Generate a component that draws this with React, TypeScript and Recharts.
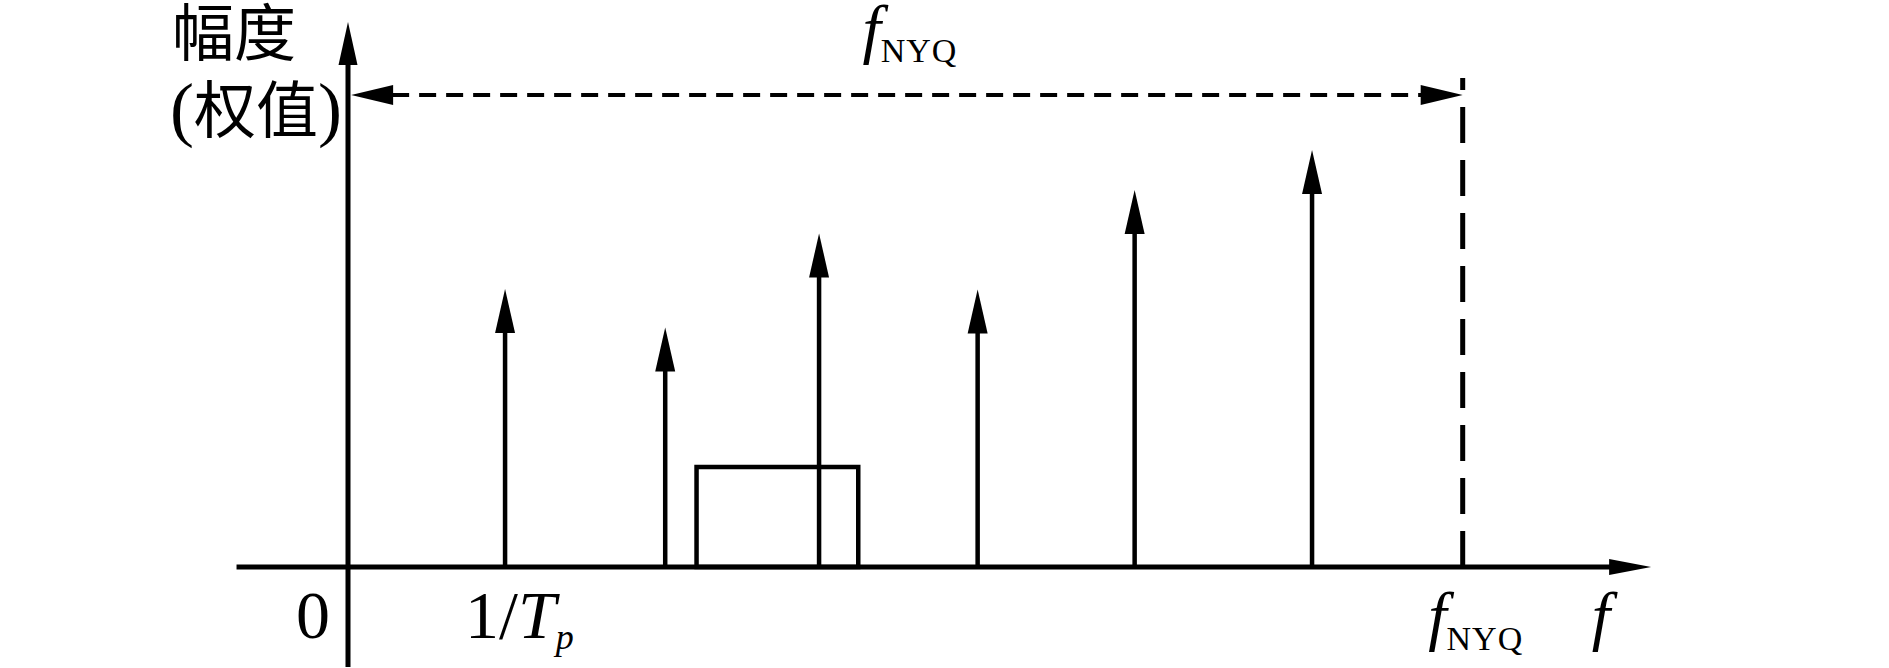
import { ComposedChart, Bar, XAxis, YAxis, ReferenceLine, ReferenceArea } from "recharts";

// spectral lines (x in units of 1/Tp, height in arbitrary amplitude units)
const spikeFreqs = [1, 2.02, 3, 4.01, 5.01, 6.14];
const spikeAmps = [5.56, 4.79, 6.67, 5.55, 7.54, 8.34];
// signal band (rectangle)
const bandEdges = [2.22, 3.25];
const bandLevel = 2;
// Nyquist frequency marks
const fNyq = 7.1;
const nyqArrowLevel = 9.44;
const nyqMarkTop = 9.78;
// axis extents
const xAxisEnds = [-0.71, 8.3];
const yAxisEnds = [-2, 10.9];
const tickValues = [0, 1, fNyq, 7.98];

const data = spikeFreqs.map((f, i) => ({ f, amp: spikeAmps[i] }));

const SERIF = '"Liberation Serif", "Times New Roman", serif';
const CJK = '"Noto Sans CJK SC", sans-serif';

function headPath(tx: number, ty: number, ux: number, uy: number, len: number, w: number) {
  const bx = tx - ux * len;
  const by = ty - uy * len;
  const px = (-uy * w) / 2;
  const py = (ux * w) / 2;
  return `M${tx},${ty} L${bx + px},${by + py} L${bx - px},${by - py} Z`;
}

function arrowShape(opts: { start?: boolean; end?: boolean; len?: number; w?: number; dash?: string }) {
  const { start = false, end = true, len = 44, w = 20, dash } = opts;
  return (p: any) => {
    const { x1, y1, x2, y2, strokeWidth } = p;
    const dx = x2 - x1;
    const dy = y2 - y1;
    const d = Math.hypot(dx, dy) || 1;
    const ux = dx / d;
    const uy = dy / d;
    const sx = start ? x1 + ux * (len - 1) : x1;
    const sy = start ? y1 + uy * (len - 1) : y1;
    const ex = end ? x2 - ux * (len - 1) : x2;
    const ey = end ? y2 - uy * (len - 1) : y2;
    return (
      <g>
        <line x1={sx} y1={sy} x2={ex} y2={ey} stroke="#000" strokeWidth={strokeWidth} strokeDasharray={dash} />
        {start && <path d={headPath(x1, y1, -ux, -uy, len, w)} fill="#000" />}
        {end && <path d={headPath(x2, y2, ux, uy, len, w)} fill="#000" />}
      </g>
    );
  };
}

function SpikeShape(p: any) {
  const { x, y, width, height } = p;
  const cx = x + width / 2;
  return (
    <g>
      <line x1={cx} y1={y + height} x2={cx} y2={y + 42} stroke="#000" strokeWidth={4.5} />
      <path d={headPath(cx, y, 0, -1, 44, 20)} fill="#000" />
    </g>
  );
}

function FreqTick(p: any) {
  const { x, payload } = p;
  const i = tickValues.indexOf(payload.value);
  const base = 638;
  if (i === 0) {
    return (
      <text x={x - 35} y={base} textAnchor="middle" fontFamily={SERIF} fontSize={68} fill="#000">
        0
      </text>
    );
  }
  if (i === 1) {
    return (
      <text x={x - 40} y={base} textAnchor="start" fontFamily={SERIF} fontSize={68} fill="#000">
        <tspan>1/</tspan>
        <tspan fontStyle="italic">T</tspan>
        <tspan fontStyle="italic" fontSize={36} dy={11}>p</tspan>
      </text>
    );
  }
  if (i === 2) {
    return (
      <text x={x + 13} y={base} textAnchor="middle" fontFamily={SERIF} fontSize={66} fill="#000">
        <tspan fontStyle="italic">f</tspan>
        <tspan fontSize={34} dy={12} letterSpacing={1}>NYQ</tspan>
      </text>
    );
  }
  return (
    <text x={x} y={base} textAnchor="middle" fontFamily={SERIF} fontSize={66} fontStyle="italic" fill="#000">
      f
    </text>
  );
}

export default function App() {
  return (
    <div style={{ position: "absolute", left: 0, top: 0, background: "#fff" }}>
      <ComposedChart width={1889} height={668} data={data} margin={{ top: 17, right: 128, bottom: 0, left: 191 }}>
        <XAxis
          dataKey="f"
          type="number"
          domain={[-1, 9]}
          allowDataOverflow
          ticks={tickValues}
          interval={0}
          height={1}
          tickSize={0}
          tickMargin={0}
          axisLine={false}
          tickLine={false}
          tick={<FreqTick />}
        />
        <YAxis type="number" domain={[-2, 11]} allowDataOverflow hide />
        <ReferenceArea
          x1={bandEdges[0]}
          x2={bandEdges[1]}
          y1={0}
          y2={bandLevel}
          fill="none"
          fillOpacity={0}
          stroke="#000"
          strokeWidth={4.5}
          ifOverflow="visible"
        />
        <Bar dataKey="amp" barSize={20} shape={<SpikeShape />} isAnimationActive={false} />
        <ReferenceLine
          segment={[{ x: xAxisEnds[0], y: 0 }, { x: xAxisEnds[1], y: 0 }]}
          stroke="#000"
          strokeWidth={5}
          ifOverflow="visible"
          shape={arrowShape({ len: 42, w: 16 })}
        />
        <ReferenceLine
          segment={[{ x: 0, y: yAxisEnds[0] }, { x: 0, y: yAxisEnds[1] }]}
          stroke="#000"
          strokeWidth={5}
          ifOverflow="visible"
          shape={arrowShape({ len: 43, w: 19 })}
          label={{
            content: (lp: any) => {
              const vb = lp.viewBox;
              const lx = vb.x - 178;
              return (
                <text fontFamily={CJK} fontSize={62} fill="#000">
                  <tspan x={lx + 2} y={vb.y + 34}>幅度</tspan>
                  <tspan x={lx} y={vb.y + 111}>
                    <tspan fontFamily={SERIF} fontSize={72}>(</tspan>
                    <tspan>权值</tspan>
                    <tspan fontFamily={SERIF} fontSize={72}>)</tspan>
                  </tspan>
                </text>
              );
            },
          }}
        />
        <ReferenceLine
          segment={[{ x: fNyq, y: 0 }, { x: fNyq, y: nyqMarkTop }]}
          stroke="#000"
          strokeWidth={5}
          ifOverflow="visible"
          shape={arrowShape({ end: false, dash: "36 17" })}
        />
        <ReferenceLine
          segment={[{ x: 0.02, y: nyqArrowLevel }, { x: fNyq, y: nyqArrowLevel }]}
          stroke="#000"
          strokeWidth={4}
          ifOverflow="visible"
          shape={arrowShape({ start: true, end: true, len: 42, w: 20, dash: "17 10" })}
          label={{
            content: (lp: any) => {
              const vb = lp.viewBox;
              return (
                <text x={vb.x + vb.width / 2 + 3} y={vb.y - 44} textAnchor="middle" fontFamily={SERIF} fontSize={66} fill="#000">
                  <tspan fontStyle="italic">f</tspan>
                  <tspan fontSize={34} dy={11} letterSpacing={1}>NYQ</tspan>
                </text>
              );
            },
          }}
        />
      </ComposedChart>
    </div>
  );
}
